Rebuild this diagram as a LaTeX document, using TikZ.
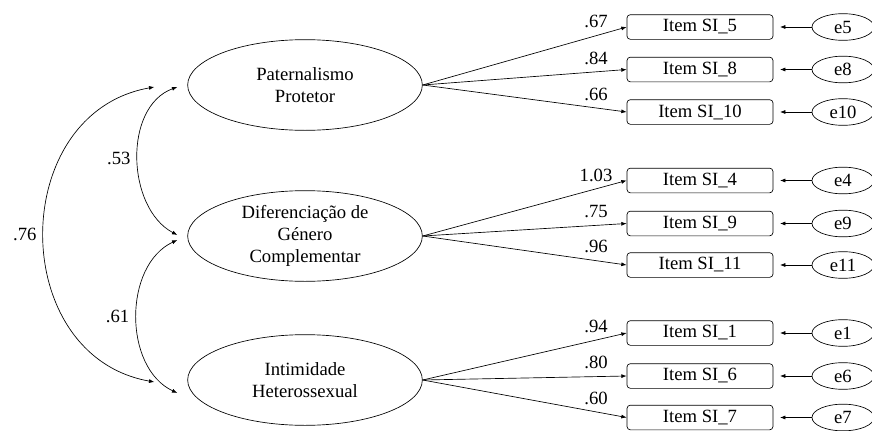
\documentclass[tikz,border=0pt]{standalone}
\usepackage{fontspec}
\setmainfont{Liberation Serif}
\usetikzlibrary{arrows.meta,shapes.geometric,calc}

\begin{document}
\begin{tikzpicture}[
  x=0.75pt, y=0.75pt,
  font=\fontsize{14}{16.5}\selectfont,
  latent/.style={ellipse, draw, line width=0.5pt, minimum width=176pt, minimum height=68pt, align=center, inner sep=0pt},
  item/.style={draw, line width=0.5pt, rounded corners=2.5pt, minimum width=109.5pt, minimum height=18.5pt, inner sep=0pt},
  err/.style={ellipse, draw, line width=0.5pt, minimum width=46.5pt, minimum height=20pt, inner sep=0pt},
  arr/.style={-{Latex[length=4pt,width=3pt]}, line width=0.5pt},
  cov/.style={{Latex[length=4pt,width=3pt]}-{Latex[length=4pt,width=3pt]}, line width=0.5pt},
  coef/.style={above=2pt}
]
\useasboundingbox (0,0) rectangle (872,430);

% factores
\node[latent] (pat) at (305,345) {Paternalismo\\Protetor};
\node[latent] (dif) at (305,194) {Diferenciação de\\Género\\Complementar};
\node[latent] (int) at (305,50) {Intimidade\\Heterossexual};

% itens
\node[item] (i5) at (700,403) {Item SI\_5};
\node[item] (i8) at (700,360.5) {Item SI\_8};
\node[item] (i10) at (700,318) {Item SI\_10};
\node[item] (i4) at (700,249.5) {Item SI\_4};
\node[item] (i9) at (700,206.5) {Item SI\_9};
\node[item] (i11) at (700,165) {Item SI\_11};
\node[item] (i1) at (700,97) {Item SI\_1};
\node[item] (i6) at (700,54) {Item SI\_6};
\node[item] (i7) at (700,12.5) {Item SI\_7};

% erros
\node[err] (e5) at (843,403) {e5};
\node[err] (e8) at (843,360.5) {e8};
\node[err] (e10) at (843,318) {e10};
\node[err] (e4) at (843,249.5) {e4};
\node[err] (e9) at (843,206.5) {e9};
\node[err] (e11) at (843,165) {e11};
\node[err] (e1) at (843,97) {e1};
\node[err] (e6) at (843,54) {e6};
\node[err] (e7) at (843,12.5) {e7};

% cargas
\draw[arr] (pat.east) -- node[pos=0.85, coef] {.67} (i5.west);
\draw[arr] (pat.east) -- node[pos=0.85, coef] {.84} (i8.west);
\draw[arr] (pat.east) -- node[pos=0.85, coef] {.66} (i10.west);
\draw[arr] (dif.east) -- node[pos=0.85, coef] {1.03} (i4.west);
\draw[arr] (dif.east) -- node[pos=0.85, coef] {.75} (i9.west);
\draw[arr] (dif.east) -- node[pos=0.85, coef] {.96} (i11.west);
\draw[arr] (int.east) -- node[pos=0.85, coef] {.94} (i1.west);
\draw[arr] (int.east) -- node[pos=0.85, coef] {.80} (i6.west);
\draw[arr] (int.east) -- node[pos=0.85, coef] {.60} (i7.west);

\draw[arr, shorten >=5pt] (e5) -- (i5);
\draw[arr, shorten >=5pt] (e8) -- (i8);
\draw[arr, shorten >=5pt] (e10) -- (i10);
\draw[arr, shorten >=5pt] (e4) -- (i4);
\draw[arr, shorten >=5pt] (e9) -- (i9);
\draw[arr, shorten >=5pt] (e11) -- (i11);
\draw[arr, shorten >=5pt] (e1) -- (i1);
\draw[arr, shorten >=5pt] (e6) -- (i6);
\draw[arr, shorten >=5pt] (e7) -- (i7);

% correlacoes
\coordinate (pat-a) at ($(pat.west)+(-33,-2)$);
\coordinate (pat-b) at ($(pat.west)+(-10,-2)$);
\coordinate (dif-a) at ($(dif.west)+(-10,1)$);
\coordinate (dif-b) at ($(dif.west)+(-10,-4)$);
\coordinate (int-a) at ($(int.west)+(-33,-2)$);
\coordinate (int-b) at ($(int.west)+(-10,-13)$);

\draw[cov] (pat-b) to[out=200, in=152, looseness=1] node[left=2pt] {.53} (dif-a);
\draw[cov] (dif-b) to[out=205, in=155, looseness=1] node[left=2pt] {.61} (int-b);
\draw[cov] (pat-a) to[out=190, in=170, looseness=1.3] node[left=2pt] {.76} (int-a);

\end{tikzpicture}
\end{document}
